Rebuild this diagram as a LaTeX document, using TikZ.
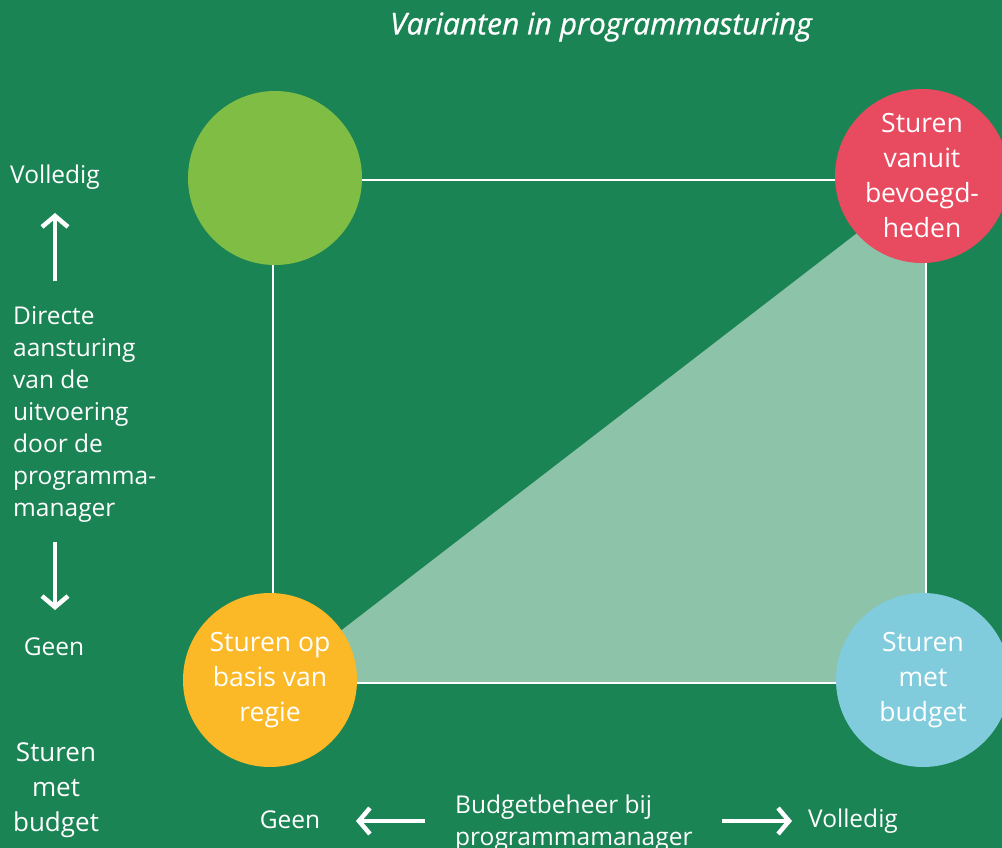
\documentclass[tikz,border=0pt]{standalone}
\usepackage{fontspec}
\setmainfont{Open Sans}
\usetikzlibrary{arrows.meta}
\definecolor{bg}{HTML}{1B8454}
\definecolor{cgreen}{HTML}{7FBD45}
\definecolor{cred}{HTML}{E84A5F}
\definecolor{cyellow}{HTML}{FBB927}
\definecolor{cblue}{HTML}{81CCDC}
\definecolor{tri}{HTML}{8DC3A8}
\tikzset{
  circ/.style={circle, minimum size=174pt, inner sep=0pt, align=center, text=white, font=\fontsize{26.5}{35}\selectfont},
  lbl/.style={text=white, font=\fontsize{24.5}{32}\selectfont, inner sep=0pt},
  axis/.style={white, line width=2.2pt},
  bigarrow/.style={white, line width=4.5pt, -{Straight Barb[length=11pt,width=26pt,line width=4.5pt]}}
}
\begin{document}
\begin{tikzpicture}[x=1pt,y=-1pt]
\fill[bg] (0,0) rectangle (1002,848);
\useasboundingbox (0,0) rectangle (1002,848);
\coordinate (tl) at (273,180);
\coordinate (tr) at (926,180);
\coordinate (bl) at (273,683);
\coordinate (br) at (926,683);
\fill[tri] (bl) -- (tr) -- (br) -- cycle;
\draw[axis] (tl) -- (tr) -- (br) -- (bl) -- cycle;
\node[circ, fill=cgreen] (green) at (275,178) {};
\node[circ, fill=cred] (red) at (922,176) {Sturen\\vanuit\\bevoegd-\\heden};
\node[circ, fill=cyellow] (yellow) at (270,680) {Sturen op\\basis van\\regie};
\node[circ, fill=cblue] (blue) at (923,680) {Sturen\\met\\budget};
\node[text=white, font=\fontsize{30}{32}\selectfont\itshape\addfontfeature{FakeBold=0.8}] (title) at (601,27) {Varianten in programmasturing};
\node[lbl, anchor=west] (vol1) at (10,177) {Volledig};
\node[lbl, anchor=north west, align=left] (dir) at (13,306) {Directe\\aansturing\\van de\\uitvoering\\door de\\programma-\\manager};
\node[lbl] (geen1) at (54,647) {Geen};
\coordinate (ua1) at (55,281);
\coordinate (ua2) at (55,213);
\coordinate (da1) at (55,542);
\coordinate (da2) at (55,610);
\draw[bigarrow] (ua1) -- (ua2);
\draw[bigarrow] (da1) -- (da2);
\node[text=white, align=center, font=\fontsize{26}{35}\selectfont, inner sep=0pt] (smb) at (56,790) {Sturen\\met\\budget};
\node[lbl] (geen2) at (290,820) {Geen};
\node[lbl, align=left, anchor=north west] (bb) at (455,795) {Budgetbeheer bij\\programmamanager};
\node[lbl, anchor=west] (vol2) at (808,821) {Volledig};
\coordinate (la1) at (425,821);
\coordinate (la2) at (356,821);
\coordinate (ra1) at (722,821);
\coordinate (ra2) at (792,821);
\draw[bigarrow] (la1) -- (la2);
\draw[bigarrow] (ra1) -- (ra2);
\end{tikzpicture}
\end{document}
